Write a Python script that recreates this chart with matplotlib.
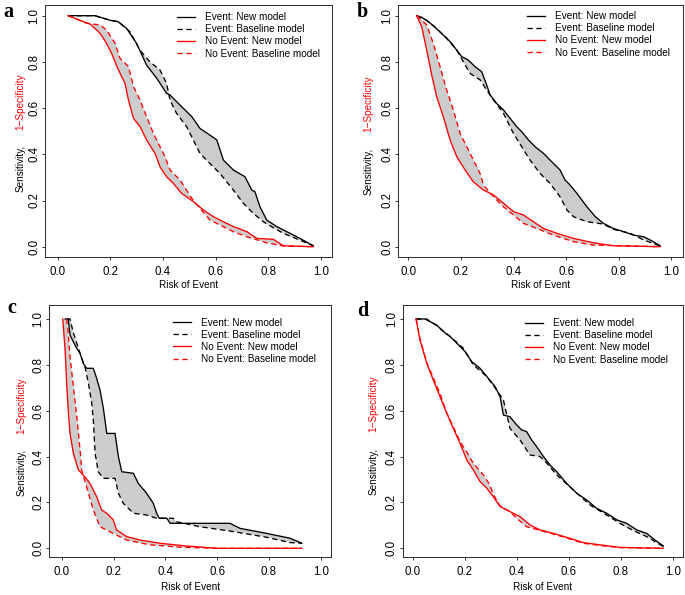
import numpy as np
import matplotlib
matplotlib.use("Agg")
import matplotlib.pyplot as plt
from matplotlib.lines import Line2D

# ---------------- data ----------------
ticks = [0.0, 0.2, 0.4, 0.6, 0.8, 1.0]
tick_labels = ["0.0", "0.2", "0.4", "0.6", "0.8", "1.0"]
panel_letters = ["a", "b", "c", "d"]
legend_labels = ["Event: New model", "Event: Baseline model",
                 "No Event: New model", "No Event: Baseline model"]
xlabel_text = "Risk of Event"
ylabel_black = "Sensitivity,"
ylabel_red = "1\u2212Specificity"

# Panel a
a_ev_new_x = [0.04, 0.142, 0.20, 0.23, 0.262, 0.30, 0.338, 0.376, 0.414, 0.427, 0.465, 0.51, 0.541, 0.579, 0.605,
              0.63, 0.668, 0.712, 0.738, 0.75, 0.769, 0.795, 0.833, 0.871, 0.921, 0.972]
a_ev_new_y = [1.0, 1.0, 0.98, 0.974, 0.945, 0.88, 0.786, 0.73, 0.664, 0.657, 0.613, 0.563, 0.512, 0.483, 0.462,
              0.375, 0.332, 0.303, 0.245, 0.238, 0.173, 0.115, 0.087, 0.065, 0.036, 0.004]
a_ev_base_x = [0.04, 0.142, 0.20, 0.231, 0.275, 0.313, 0.351, 0.389, 0.414, 0.427, 0.452, 0.49, 0.541, 0.579, 0.617,
               0.668, 0.706, 0.744, 0.782, 0.82, 0.858, 0.896, 0.972]
a_ev_base_y = [1.0, 1.0, 0.98, 0.974, 0.93, 0.85, 0.80, 0.765, 0.707, 0.635, 0.577, 0.52, 0.404, 0.36, 0.317,
               0.245, 0.188, 0.144, 0.108, 0.082, 0.058, 0.04, 0.004]
a_ne_new_x = [0.04, 0.085, 0.123, 0.161, 0.186, 0.205, 0.231, 0.256, 0.269, 0.288, 0.313, 0.338, 0.37, 0.389, 0.414,
              0.44, 0.471, 0.516, 0.554, 0.592, 0.63, 0.668, 0.719, 0.757, 0.82, 0.858, 0.972]
a_ne_new_y = [1.0, 0.98, 0.964, 0.924, 0.88, 0.837, 0.765, 0.707, 0.635, 0.556, 0.52, 0.462, 0.404, 0.346, 0.303,
              0.274, 0.231, 0.195, 0.159, 0.13, 0.108, 0.087, 0.065, 0.036, 0.032, 0.004, 0.0]
a_ne_base_x = [0.04, 0.11, 0.161, 0.186, 0.218, 0.237, 0.269, 0.288, 0.313, 0.338, 0.364, 0.389, 0.408, 0.427, 0.465,
               0.51, 0.541, 0.579, 0.617, 0.668, 0.719, 0.795, 0.858, 0.972]
a_ne_base_y = [1.0, 0.967, 0.96, 0.938, 0.88, 0.815, 0.78, 0.693, 0.635, 0.563, 0.49, 0.433, 0.39, 0.332, 0.289,
               0.209, 0.166, 0.115, 0.094, 0.065, 0.043, 0.017, 0.003, 0.0]

# Panel b
b_ev_new_x = [0.032, 0.051, 0.076, 0.10, 0.12, 0.146, 0.165, 0.184, 0.203, 0.228, 0.254, 0.279, 0.298, 0.311, 0.336,
              0.362, 0.387, 0.412, 0.431, 0.457, 0.482, 0.514, 0.539, 0.577, 0.596, 0.615, 0.641, 0.679, 0.711,
              0.742, 0.78, 0.819, 0.857, 0.895, 0.92, 0.958]
b_ev_new_y = [1.0, 0.993, 0.974, 0.952, 0.93, 0.902, 0.88, 0.851, 0.823, 0.808, 0.779, 0.758, 0.70, 0.657, 0.62,
              0.592, 0.556, 0.52, 0.498, 0.462, 0.433, 0.404, 0.375, 0.332, 0.289, 0.267, 0.231, 0.173, 0.13,
              0.101, 0.079, 0.065, 0.05, 0.043, 0.029, 0.004]
b_ev_base_x = [0.032, 0.07, 0.108, 0.146, 0.184, 0.209, 0.235, 0.273, 0.298, 0.324, 0.362, 0.40, 0.431, 0.463,
               0.501, 0.539, 0.577, 0.603, 0.628, 0.679, 0.742, 0.78, 0.844, 0.895, 0.958]
b_ev_base_y = [1.0, 0.98, 0.944, 0.902, 0.851, 0.801, 0.75, 0.722, 0.678, 0.635, 0.577, 0.49, 0.433, 0.375,
               0.317, 0.274, 0.216, 0.159, 0.13, 0.108, 0.098, 0.075, 0.058, 0.029, 0.003]
b_ne_new_x = [0.032, 0.051, 0.07, 0.089, 0.108, 0.133, 0.159, 0.184, 0.216, 0.247, 0.286, 0.324, 0.362, 0.40,
              0.438, 0.476, 0.514, 0.565, 0.628, 0.704, 0.78, 0.958]
b_ne_new_y = [1.0, 0.952, 0.851, 0.743, 0.649, 0.563, 0.462, 0.39, 0.332, 0.281, 0.245, 0.224, 0.188, 0.152,
              0.137, 0.108, 0.079, 0.058, 0.036, 0.017, 0.004, 0.0]
b_ne_base_x = [0.032, 0.07, 0.095, 0.121, 0.146, 0.171, 0.197, 0.235, 0.273, 0.286, 0.324, 0.362, 0.40, 0.438,
               0.489, 0.552, 0.628, 0.704, 0.958]
b_ne_base_y = [1.0, 0.96, 0.88, 0.779, 0.678, 0.592, 0.49, 0.404, 0.317, 0.267, 0.216, 0.173, 0.137, 0.101,
               0.079, 0.05, 0.022, 0.007, 0.0]

# Panel c
c_ev_new_x = [0.012, 0.024, 0.031, 0.044, 0.057, 0.07, 0.082, 0.095, 0.121, 0.134, 0.147, 0.16, 0.173, 0.205,
              0.218, 0.231, 0.276, 0.295, 0.327, 0.353, 0.366, 0.376, 0.405, 0.418, 0.649, 0.688, 0.791, 0.881, 0.927]
c_ev_new_y = [1.0, 1.0, 0.93, 0.90, 0.872, 0.85, 0.807, 0.785, 0.785, 0.741, 0.69, 0.61, 0.501, 0.501,
              0.40, 0.334, 0.327, 0.283, 0.24, 0.196, 0.153, 0.131, 0.131, 0.109, 0.109, 0.087, 0.065, 0.044, 0.022]
c_ev_base_x = [0.018, 0.031, 0.044, 0.07, 0.089, 0.102, 0.115, 0.121, 0.128, 0.14, 0.16, 0.205, 0.218, 0.237,
               0.276, 0.327, 0.366, 0.43, 0.443, 0.534, 0.662, 0.791, 0.881, 0.927]
c_ev_base_y = [1.0, 1.0, 0.94, 0.85, 0.79, 0.72, 0.632, 0.56, 0.414, 0.334, 0.305, 0.305, 0.24, 0.196,
               0.153, 0.145, 0.131, 0.131, 0.116, 0.094, 0.073, 0.048, 0.025, 0.022]
c_ne_new_x = [0.003, 0.012, 0.018, 0.024, 0.031, 0.044, 0.063, 0.082, 0.108, 0.134, 0.153, 0.173, 0.198, 0.211,
              0.25, 0.302, 0.379, 0.482, 0.598, 0.927]
c_ne_new_y = [1.0, 0.865, 0.72, 0.603, 0.501, 0.414, 0.342, 0.32, 0.283, 0.225, 0.167, 0.153, 0.124, 0.08,
              0.051, 0.036, 0.022, 0.01, 0.0, 0.0]
c_ne_base_x = [0.018, 0.024, 0.031, 0.044, 0.057, 0.07, 0.076, 0.095, 0.121, 0.147, 0.198, 0.25, 0.34, 0.469,
               0.598, 0.927]
c_ne_base_y = [1.0, 0.94, 0.836, 0.705, 0.574, 0.429, 0.342, 0.269, 0.167, 0.094, 0.065, 0.036, 0.015, 0.004,
               0.0, 0.0]

# Panel d
d_ev_new_x = [0.013, 0.047, 0.067, 0.092, 0.118, 0.144, 0.176, 0.201, 0.227, 0.259, 0.291, 0.317, 0.336, 0.349,
              0.374, 0.40, 0.419, 0.438, 0.458, 0.477, 0.503, 0.528, 0.554, 0.592, 0.631, 0.669, 0.708, 0.746,
              0.785, 0.823, 0.862, 0.90, 0.932, 0.964]
d_ev_new_y = [1.0, 1.0, 0.988, 0.974, 0.945, 0.923, 0.887, 0.858, 0.814, 0.785, 0.741, 0.705, 0.661, 0.581,
              0.574, 0.538, 0.516, 0.509, 0.472, 0.443, 0.40, 0.363, 0.334, 0.283, 0.24, 0.211, 0.174, 0.153,
              0.124, 0.109, 0.08, 0.065, 0.036, 0.01]
d_ev_base_x = [0.013, 0.054, 0.092, 0.144, 0.195, 0.233, 0.285, 0.323, 0.349, 0.374, 0.413, 0.451, 0.49, 0.515,
               0.554, 0.618, 0.682, 0.746, 0.797, 0.849, 0.90, 0.964]
d_ev_base_y = [1.0, 1.0, 0.971, 0.924, 0.872, 0.80, 0.749, 0.69, 0.647, 0.523, 0.472, 0.407, 0.40, 0.372,
               0.32, 0.254, 0.189, 0.145, 0.109, 0.077, 0.051, 0.007]
d_ne_new_x = [0.013, 0.028, 0.054, 0.079, 0.105, 0.131, 0.156, 0.182, 0.208, 0.233, 0.259, 0.285, 0.31, 0.336,
              0.374, 0.413, 0.451, 0.49, 0.541, 0.592, 0.656, 0.721, 0.797, 0.964]
d_ne_new_y = [1.0, 0.908, 0.807, 0.734, 0.661, 0.589, 0.523, 0.458, 0.385, 0.342, 0.291, 0.262, 0.225, 0.182,
              0.16, 0.138, 0.102, 0.08, 0.065, 0.048, 0.025, 0.015, 0.004, 0.0]
d_ne_base_x = [0.013, 0.028, 0.054, 0.079, 0.105, 0.131, 0.156, 0.182, 0.208, 0.233, 0.272, 0.297, 0.31, 0.336,
               0.374, 0.40, 0.438, 0.49, 0.541, 0.592, 0.656, 0.721, 0.797, 0.964]
d_ne_base_y = [1.0, 0.915, 0.81, 0.745, 0.675, 0.59, 0.53, 0.465, 0.42, 0.371, 0.32, 0.276, 0.235, 0.185,
               0.16, 0.131, 0.094, 0.078, 0.062, 0.045, 0.022, 0.012, 0.003, 0.0]

panels = {
    "a": (a_ev_new_x, a_ev_new_y, a_ev_base_x, a_ev_base_y, a_ne_new_x, a_ne_new_y, a_ne_base_x, a_ne_base_y),
    "b": (b_ev_new_x, b_ev_new_y, b_ev_base_x, b_ev_base_y, b_ne_new_x, b_ne_new_y, b_ne_base_x, b_ne_base_y),
    "c": (c_ev_new_x, c_ev_new_y, c_ev_base_x, c_ev_base_y, c_ne_new_x, c_ne_new_y, c_ne_base_x, c_ne_base_y),
    "d": (d_ev_new_x, d_ev_new_y, d_ev_base_x, d_ev_base_y, d_ne_new_x, d_ne_new_y, d_ne_base_x, d_ne_base_y),
}

# ---------------- layout (pixels) ----------------
W, H = 685, 595
layout = {
    "a": dict(box=(45, 5, 331.7, 256.7), tx=(57.7, 320.7), ty=(15.7, 246.7), letter=(3, 17),
              ylab_x=20.5, ylab_gap=137, leg=(177, 12)),
    "b": dict(box=(398.3, 5, 682.7, 256.7), tx=(408.3, 671.3), ty=(15.7, 246.7), letter=(357, 17),
              ylab_x=368.3, ylab_gap=140, leg=(527, 11)),
    "c": dict(box=(49.3, 305, 331, 556.5), tx=(62, 320.7), ty=(319, 548.3), letter=(7, 313),
              ylab_x=21.7, ylab_gap=441, leg=(173, 317.5)),
    "d": dict(box=(402.7, 305, 682.7, 556.5), tx=(412.7, 672.7), ty=(319, 548.3), letter=(357, 316),
              ylab_x=373.3, ylab_gap=440, leg=(525, 318)),
}

FONT = "Liberation Sans"
GRAY = "#cccccc"
RED = "#ff0000"
DASH = (4, 2.7)
LW = 0.95

fig = plt.figure(figsize=(W / 100, H / 100), dpi=100)

for key in ["a", "b", "c", "d"]:
    L = layout[key]
    l, t, r, b = L["box"]
    ax = fig.add_axes([l / W, 1 - b / H, (r - l) / W, (b - t) / H])
    x0, x1 = L["tx"]
    y1p, y0p = L["ty"]
    xs = x1 - x0
    ys = y0p - y1p
    ax.set_xlim((l - x0) / xs, (r - x0) / xs)
    ax.set_ylim((y0p - b) / ys, (y0p - t) / ys)

    evnx, evny, evbx, evby, nenx, neny, nebx, neby = panels[key]
    ax.fill(np.concatenate([evnx, evbx[::-1]]), np.concatenate([evny, evby[::-1]]),
            color=GRAY, lw=0, zorder=1)
    ax.fill(np.concatenate([nenx, nebx[::-1]]), np.concatenate([neny, neby[::-1]]),
            color=GRAY, lw=0, zorder=1)
    ax.plot(evnx, evny, color="black", lw=LW, zorder=3)
    ax.plot(evbx, evby, color="black", lw=LW, dashes=DASH, zorder=3)
    ax.plot(nenx, neny, color=RED, lw=LW, zorder=3)
    ax.plot(nebx, neby, color=RED, lw=LW, dashes=DASH, zorder=3)

    ax.set_xticks(ticks)
    ax.set_xticklabels(tick_labels, fontsize=8.3, family=FONT)
    ax.set_yticks(ticks)
    ax.set_yticklabels(tick_labels, fontsize=8.3, family=FONT, rotation=90, va="center")
    ax.tick_params(axis="both", direction="out", length=2.3, width=0.7, color="#333333")
    ax.tick_params(axis="x", pad=4.6)
    ax.tick_params(axis="y", pad=1.2)
    for s in ax.spines.values():
        s.set_linewidth(0.75)
        s.set_color("#333333")

    ax.set_xlabel(xlabel_text, fontsize=7.2, family=FONT)
    ax.xaxis.set_label_coords(0.5, -23.0 / (b - t) if key in "ab" else -25.0 / (b - t))

    g = L["ylab_gap"]
    fig.text(L["ylab_x"] / W, 1 - (g + 7.5) / H, ylabel_black, rotation=90, fontsize=7.2, family=FONT,
             color="black", ha="center", va="top")
    fig.text(L["ylab_x"] / W, 1 - (g - 7.5) / H, ylabel_red, rotation=90, fontsize=7.2, family=FONT,
             color=RED, ha="center", va="bottom")

    handles = [Line2D([], [], color="black", lw=LW),
               Line2D([], [], color="black", lw=LW, dashes=DASH),
               Line2D([], [], color=RED, lw=LW),
               Line2D([], [], color=RED, lw=LW, dashes=DASH)]
    lx, ly = L["leg"]
    ax.legend(handles, legend_labels, loc="upper left",
              bbox_to_anchor=((lx - l) / (r - l), (b - ly) / (b - t)),
              frameon=False, borderpad=0, borderaxespad=0, handlelength=1.8, handletextpad=1.0,
              labelspacing=0.22, prop=dict(family=FONT, size=7.2))

    px, py = L["letter"]
    fig.text(px / W, 1 - py / H, key, fontsize=14.5, fontweight="bold", family="Liberation Serif",
             ha="left", va="baseline")

fig.savefig("out.png", dpi=100)
